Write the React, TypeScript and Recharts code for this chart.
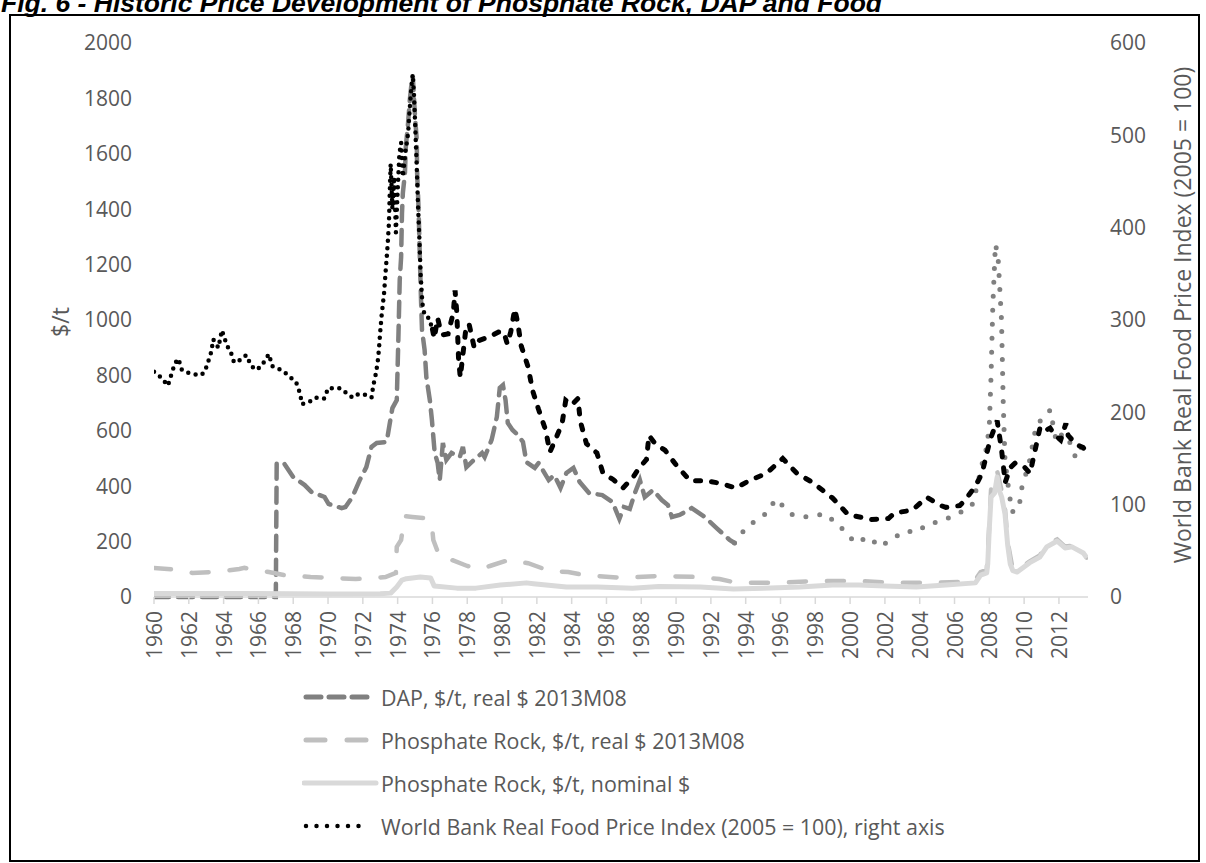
import React from "react";
import { LineChart, Line, XAxis, YAxis, Legend } from "recharts";

type Pt = [number, number];

// World Bank Real Food Price Index (2005 = 100), right axis
const foodIndexEarly: Pt[] = [
  [1960.0, 244], [1960.4, 238], [1960.8, 229], [1961.0, 241], [1961.2, 253], [1961.4, 258],
  [1961.6, 246], [1961.9, 243], [1962.2, 242], [1962.6, 240], [1962.9, 243], [1963.1, 254],
  [1963.3, 266], [1963.4, 279], [1963.7, 270], [1963.9, 289], [1964.2, 272], [1964.4, 266],
  [1964.6, 254], [1965.0, 257], [1965.3, 262], [1965.6, 250], [1965.9, 246], [1966.2, 251],
  [1966.6, 263], [1966.8, 250], [1967.4, 245], [1967.9, 237], [1968.2, 231], [1968.4, 220],
  [1968.5, 209], [1968.9, 211], [1969.3, 216], [1969.8, 215], [1970.0, 226], [1970.7, 226],
  [1971.4, 216], [1971.6, 219], [1972.0, 220], [1972.5, 216], [1972.6, 229], [1972.75, 242],
  [1972.85, 254], [1972.92, 267], [1972.97, 280], [1973.02, 292], [1973.08, 305], [1973.15, 317],
  [1973.22, 329], [1973.27, 342], [1973.32, 355], [1973.37, 367], [1973.42, 380], [1973.5, 405],
  [1973.55, 440], [1973.6, 469], [1973.7, 420], [1973.8, 455], [1973.9, 395], [1974.0, 440],
  [1974.1, 480], [1974.2, 492], [1974.3, 455], [1974.45, 482], [1974.6, 502], [1974.7, 530],
  [1974.8, 555], [1974.87, 566], [1974.95, 540], [1975.02, 505], [1975.1, 465], [1975.17, 425],
  [1975.25, 388], [1975.32, 350], [1975.42, 318], [1975.55, 305], [1975.8, 302], [1976.0, 290],
];

const foodIndexLate: Pt[] = [
  [1976.0, 290], [1976.1, 280], [1976.3, 302], [1976.4, 294], [1976.6, 284], [1976.9, 285],
  [1977.2, 308], [1977.3, 332], [1977.4, 308], [1977.5, 258], [1977.6, 238], [1977.9, 287],
  [1978.1, 296], [1978.4, 270], [1978.7, 278], [1979.3, 282], [1979.8, 287], [1980.1, 287],
  [1980.3, 274], [1980.5, 287], [1980.73, 312], [1980.9, 297], [1981.1, 272], [1981.5, 249],
  [1981.75, 224], [1982.1, 203], [1982.5, 181], [1982.75, 157], [1983.1, 172], [1983.45, 188],
  [1983.66, 213], [1984.0, 208], [1984.36, 215], [1984.5, 190], [1984.85, 166], [1985.45, 156],
  [1985.8, 134], [1986.4, 127], [1986.94, 118], [1987.5, 129], [1987.85, 139], [1988.3, 149],
  [1988.44, 175], [1988.8, 166], [1989.36, 159], [1990.0, 143], [1990.8, 126], [1991.65, 126],
  [1992.6, 123], [1993.43, 118], [1994.2, 126], [1995.2, 134], [1996.13, 150], [1996.94, 134],
  [1997.85, 124], [1999.0, 107], [1999.9, 89], [2001.24, 84], [2002.2, 85], [2002.56, 91],
  [2003.56, 94], [2004.42, 108], [2005.1, 100], [2005.5, 97], [2006.3, 99], [2006.61, 105],
  [2007.2, 120], [2007.58, 134], [2008.04, 170], [2008.45, 191], [2008.7, 160], [2008.91, 124],
  [2009.2, 140], [2009.48, 145], [2010.0, 141], [2010.34, 134], [2010.7, 165], [2010.92, 184],
  [2011.2, 180], [2011.49, 183], [2011.7, 177], [2012.1, 170], [2012.4, 188], [2012.53, 175],
  [2013.0, 165], [2013.39, 162], [2013.6, 156],
];

// DAP, $/t, real $ 2013M08
const dapEarly: Pt[] = [
  [1960.0, 0], [1967.0, 0], [1967.05, 484], [1967.5, 480], [1968.0, 433], [1968.66, 404],
  [1969.05, 379], [1969.8, 361], [1970.03, 336], [1970.78, 321], [1971.0, 325], [1971.4, 361],
  [1971.82, 422], [1972.2, 469], [1972.5, 542], [1972.8, 556], [1973.37, 560], [1973.55, 628],
  [1973.7, 682], [1973.95, 711], [1974.05, 953], [1974.12, 1144], [1974.2, 1227], [1974.25, 1386],
  [1974.3, 1458], [1974.42, 1530], [1974.47, 1625], [1974.6, 1711], [1974.7, 1794], [1974.8, 1855],
  [1974.87, 1880], [1975.0, 1733], [1975.1, 1650], [1975.12, 1530], [1975.2, 1408], [1975.25, 1289],
  [1975.3, 1170], [1975.35, 1061], [1975.4, 964], [1975.55, 892], [1975.65, 794], [1975.85, 711],
  [1975.97, 639], [1976.13, 520], [1976.3, 484], [1976.42, 422], [1976.6, 556], [1976.8, 495],
  [1977.1, 520], [1977.57, 505], [1977.75, 542], [1977.95, 469], [1978.25, 487], [1978.85, 520],
  [1979.0, 505], [1979.4, 567], [1979.7, 650], [1979.87, 755], [1980.05, 765], [1980.2, 711],
  [1980.33, 628], [1980.6, 603], [1980.9, 585], [1981.2, 560], [1981.4, 487], [1981.88, 466],
  [1982.1, 484], [1982.68, 422], [1983.0, 440], [1983.36, 394], [1983.7, 448], [1984.1, 466],
  [1984.46, 415], [1985.0, 375], [1985.76, 368], [1986.34, 343], [1986.74, 282], [1987.0, 325],
  [1987.34, 318], [1987.63, 375], [1987.92, 422], [1988.2, 361], [1988.67, 386], [1989.18, 350],
  [1989.53, 332], [1989.76, 289], [1990.2, 296], [1990.9, 321], [1991.65, 289], [1992.33, 249],
  [1993.08, 206], [1993.36, 195],
];

const dapLate: Pt[] = [
  [1993.36, 195], [1994.05, 253], [1994.9, 289], [1995.27, 307], [1995.72, 354], [1996.2, 325],
  [1996.7, 296], [1997.5, 289], [1998.6, 300], [1999.57, 245], [2000.3, 195], [2001.07, 217],
  [2001.7, 181], [2002.6, 217], [2003.15, 238], [2003.84, 235], [2004.47, 264], [2005.27, 274],
  [2006.14, 300], [2006.6, 314], [2007.0, 330], [2007.3, 400], [2007.6, 484], [2007.85, 540],
  [2008.0, 620], [2008.1, 800], [2008.2, 1050], [2008.35, 1274], [2008.5, 1230], [2008.7, 1000],
  [2008.8, 700], [2008.9, 495], [2009.1, 394], [2009.3, 307], [2009.7, 318], [2009.85, 390],
  [2010.3, 487], [2010.7, 621], [2011.0, 640], [2011.5, 675], [2011.85, 560], [2012.2, 590],
  [2012.5, 578], [2012.97, 502], [2013.3, 540], [2013.6, 500],
];

// Phosphate Rock, $/t, real $ 2013M08
const rockReal: Pt[] = [
  [1960.0, 105], [1961.0, 100], [1962.2, 87], [1963.5, 90], [1964.9, 101], [1965.2, 105],
  [1966.6, 90], [1967.5, 79], [1969.0, 72], [1971.6, 65], [1973.3, 72], [1973.9, 87],
  [1973.95, 181], [1974.2, 206], [1974.4, 292], [1974.85, 289], [1975.5, 285], [1975.95, 271],
  [1976.05, 206], [1976.42, 144], [1977.1, 134], [1978.0, 112], [1978.7, 101], [1979.3, 112],
  [1980.4, 134], [1981.0, 126], [1981.5, 122], [1982.74, 94], [1983.8, 90], [1984.75, 79],
  [1986.94, 69], [1989.07, 76], [1991.37, 72], [1992.5, 65], [1993.5, 51], [1995.8, 51],
  [1998.1, 58], [2000.4, 58], [2002.6, 51], [2004.5, 51], [2006.5, 55], [2007.2, 62],
  [2007.5, 90], [2007.85, 98], [2008.0, 260], [2008.1, 390], [2008.45, 455], [2008.7, 385],
  [2008.9, 320], [2009.05, 200], [2009.3, 115], [2009.6, 95], [2010.3, 128], [2010.9, 150],
  [2011.3, 188], [2011.9, 208], [2012.35, 182], [2012.75, 185], [2013.4, 160], [2013.6, 142],
];

// Phosphate Rock, $/t, nominal $
const rockNominal: Pt[] = [
  [1960.0, 13], [1965.0, 13], [1970.0, 11], [1973.0, 12], [1973.6, 14], [1973.95, 36],
  [1974.25, 61], [1974.5, 66], [1975.3, 72], [1975.9, 69], [1976.1, 40], [1977.4, 32],
  [1978.5, 32], [1979.9, 43], [1981.4, 51], [1981.8, 48], [1983.7, 36], [1985.5, 36],
  [1987.5, 32], [1989.0, 38], [1991.4, 36], [1993.3, 29], [1995.0, 32], [1997.1, 36],
  [1999.0, 43], [2000.5, 43], [2002.0, 40], [2003.8, 36], [2005.5, 43], [2007.2, 51],
  [2007.5, 79], [2007.85, 87], [2007.91, 120], [2008.0, 250], [2008.1, 361], [2008.3, 375],
  [2008.45, 433], [2008.6, 380], [2008.71, 361], [2008.9, 300], [2009.05, 190], [2009.2, 120],
  [2009.35, 95], [2009.6, 90], [2010.3, 123], [2010.9, 144], [2011.3, 181], [2011.9, 202],
  [2012.35, 177], [2012.75, 181], [2013.4, 159], [2013.6, 141],
];

const yearTicks = [1960, 1962, 1964, 1966, 1968, 1970, 1972, 1974, 1976, 1978, 1980, 1982, 1984, 1986,
  1988, 1990, 1992, 1994, 1996, 1998, 2000, 2002, 2004, 2006, 2008, 2010, 2012];
const leftTicks = [0, 200, 400, 600, 800, 1000, 1200, 1400, 1600, 1800, 2000];
const rightTicks = [0, 100, 200, 300, 400, 500, 600];

const legendLabels = [
  "DAP, $/t, real $ 2013M08",
  "Phosphate Rock, $/t, real $ 2013M08",
  "Phosphate Rock, $/t, nominal $",
  "World Bank Real Food Price Index (2005 = 100), right axis",
];

const toRows = (pts: Pt[]) => pts.map(([x, v]) => ({ x, v }));

const FONT = "'Open Sans', sans-serif";
const TEXT = "#595959";

const YearTick = (props: any) => {
  const { x, y, payload } = props;
  return (
    <text x={x} y={y} transform={`rotate(-90 ${x} ${y})`} textAnchor="end" dominantBaseline="central"
      fill={TEXT} fontSize={21} fontFamily={FONT}>
      {payload.value}
    </text>
  );
};

const LegendBox = () => (
  <svg width={800} height={175}>
    <line x1={4} x2={65} y1={22} y2={22} stroke="#808080" strokeWidth={5}
      strokeDasharray="15 8" strokeLinecap="round" />
    <line x1={4} x2={64} y1={65} y2={65} stroke="#bfbfbf" strokeWidth={5} strokeDasharray="19 22"
      strokeLinecap="round" />
    <line x1={2} x2={74} y1={108} y2={108} stroke="#d9d9d9" strokeWidth={5} strokeLinecap="round" />
    <line x1={4} x2={67} y1={151} y2={151} stroke="#000" strokeWidth={4.5} strokeDasharray="0 10.5"
      strokeLinecap="round" />
    {legendLabels.map((t, i) => (
      <text key={t} x={79} y={22 + i * 43} dominantBaseline="central" fill={TEXT} fontSize={21.4} fontFamily={FONT}>
        {t}
      </text>
    ))}
  </svg>
);

export default function App() {
  return (
    <div style={{ position: "absolute", left: 0, top: 0, width: 1206, height: 863, overflow: "hidden", background: "#fff" }}>
      <svg width={1206} height={20} style={{ position: "absolute", left: 0, top: 0 }}>
        <text x={1} y={11.5} fontFamily="'Liberation Sans', Arial, sans-serif" fontWeight="bold" fontStyle="italic"
          fontSize={26.5} fill="#000">
          Fig. 6 - Historic Price Development of Phosphate Rock, DAP and Food
        </text>
      </svg>
      <div style={{ position: "absolute", left: 9, top: 14, width: 1187, height: 844, border: "2px solid #000" }} />
      <div style={{ position: "absolute", left: 0, top: 0 }}>
        <LineChart width={1206} height={863} margin={{ top: 43, right: 0, bottom: 206, left: 0 }}>
          <XAxis dataKey="x" type="number" domain={[1960, 2013.67]} allowDataOverflow ticks={yearTicks}
            interval={0} height={60} tick={<YearTick />} tickSize={7} tickMargin={7}
            stroke="#d9d9d9" strokeWidth={1.5} />
          <YAxis yAxisId="left" domain={[0, 2000]} ticks={leftTicks} width={154} axisLine={false}
            tickLine={false} tickMargin={16} tick={{ fill: TEXT, fontSize: 21, fontFamily: FONT }}
            label={{
              content: () => (
                <text x={60} y={322} transform="rotate(-90 60 322)" textAnchor="middle" dominantBaseline="central"
                  fill={TEXT} fontSize={23} fontFamily={FONT}>$/t</text>
              ),
            }} />
          <YAxis yAxisId="right" orientation="right" domain={[0, 600]} ticks={rightTicks} width={118}
            axisLine={false} tickLine={false} tickMargin={16} tick={{ fill: TEXT, fontSize: 21, fontFamily: FONT, textAnchor: "start" }}
            label={{
              content: () => (
                <text x={1182} y={315} transform="rotate(-90 1182 315)" textAnchor="middle" dominantBaseline="central"
                  fill={TEXT} fontSize={23} fontFamily={FONT}>World Bank Real Food Price Index (2005 = 100)</text>
              ),
            }} />
          <Legend layout="vertical" align="center" verticalAlign="middle" content={() => <LegendBox />}
            wrapperStyle={{ position: "absolute", left: 302, top: 675, width: 800 }} />
          <Line yAxisId="left" data={toRows(dapEarly)} dataKey="v" name={legendLabels[0]} stroke="#808080"
            strokeWidth={4.5} strokeDasharray="15 9" strokeLinecap="round" dot={false} activeDot={false}
            isAnimationActive={false} />
          <Line yAxisId="left" data={toRows(dapLate)} dataKey="v" name="dapLate" legendType="none" stroke="#808080"
            strokeWidth={5} strokeDasharray="0 14" strokeLinecap="round" dot={false} activeDot={false}
            isAnimationActive={false} />
          <Line yAxisId="left" data={toRows(rockReal)} dataKey="v" name={legendLabels[1]} stroke="#bfbfbf"
            strokeWidth={4.5} strokeDasharray="17 21" strokeLinecap="round" dot={false} activeDot={false}
            isAnimationActive={false} />
          <Line yAxisId="left" data={toRows(rockNominal)} dataKey="v" name={legendLabels[2]} stroke="#d9d9d9"
            strokeWidth={5} strokeLinejoin="round" dot={false} activeDot={false} isAnimationActive={false} />
          <Line yAxisId="right" data={toRows(foodIndexEarly)} dataKey="v" name={legendLabels[3]} stroke="#000"
            strokeWidth={4.5} strokeDasharray="0 7.5" strokeLinecap="round" dot={false} activeDot={false}
            isAnimationActive={false} />
          <Line yAxisId="right" data={toRows(foodIndexLate)} dataKey="v" name="foodLate" legendType="none" stroke="#000"
            strokeWidth={5} strokeDasharray="5 11" strokeLinecap="round" dot={false} activeDot={false}
            isAnimationActive={false} />
        </LineChart>
      </div>
    </div>
  );
}
